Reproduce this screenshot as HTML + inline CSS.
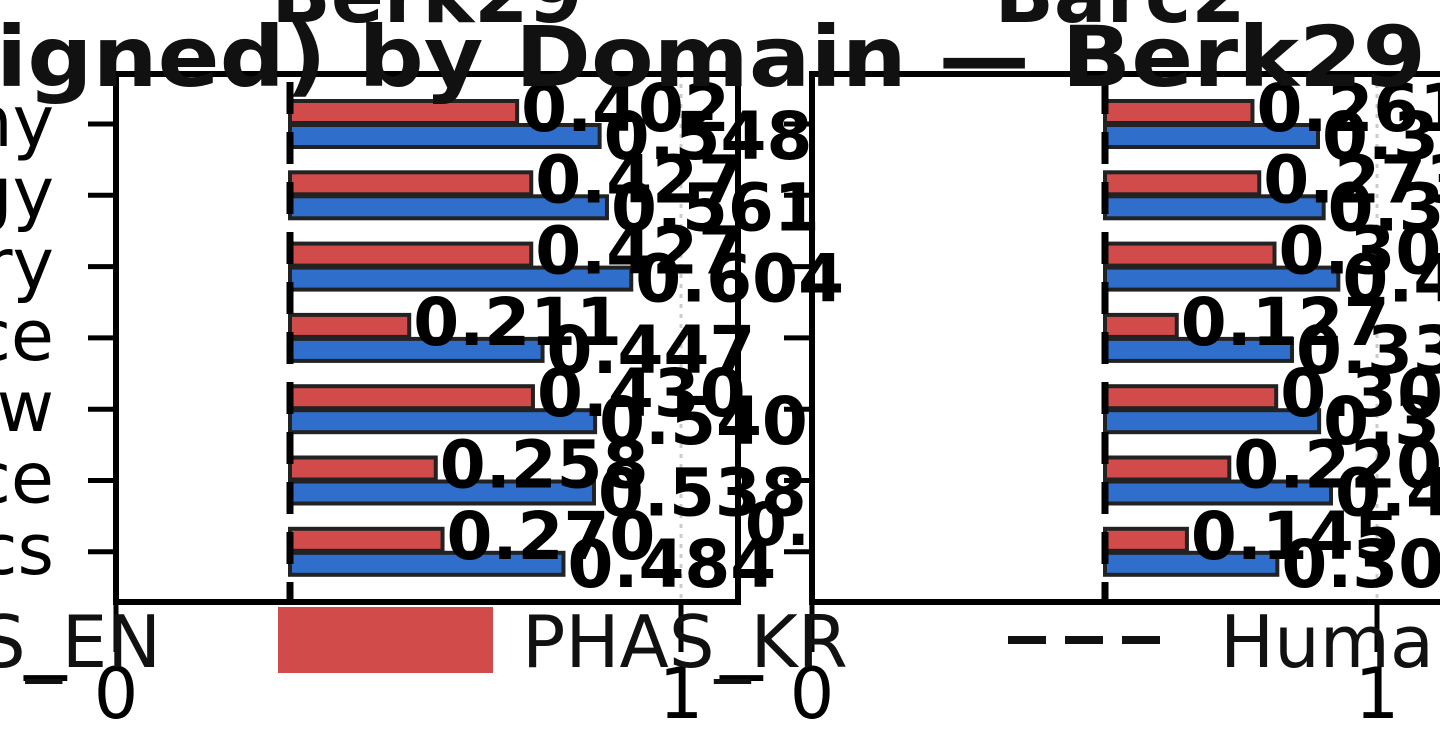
<!DOCTYPE html>
<html><head><meta charset="utf-8"><style>
html,body{margin:0;padding:0;background:#fff;width:1440px;height:752px;overflow:hidden}
svg{display:block;font-family:"DejaVu Sans","Liberation Sans",sans-serif}
</style></head><body>
<svg id="chart" width="1440" height="752" viewBox="0 0 1440 752" xmlns="http://www.w3.org/2000/svg">
<g id="plots"></g>
<g font-weight="bold" font-size="78" fill="#111" text-anchor="middle">
<text x="427" y="22">Berk29</text>
<text x="1120" y="22">Barc2</text>
</g>
<text x="-4" y="86" font-weight="bold" font-size="84" fill="#111" textLength="1430" lengthAdjust="spacingAndGlyphs">igned) by Domain — Berk29</text>
<g font-size="72" fill="#111">
<text x="-20" y="667">S_EN</text>
<rect x="278" y="607" width="215" height="66" fill="#d14b4b"/>
<text x="522" y="667">PHAS_KR</text>
<line x1="1008" y1="640" x2="1160" y2="640" stroke="#111" stroke-width="8" stroke-dasharray="38 19"/>
<text x="1220" y="667">Huma</text>
</g>
</svg>
<script>
const categories = ["ny","gy","ry","ce","w","ce","cs"];
const berkKR = [0.402,0.427,0.427,0.211,0.430,0.258,0.270];
const berkEN = [0.548,0.561,0.604,0.447,0.540,0.538,0.484];
const barcKR = [0.261,0.273,0.300,0.127,0.303,0.220,0.145];
const barcEN = [0.377,0.387,0.413,0.331,0.379,0.400,0.305];
const xTicks = [0,1];

const NS = "http://www.w3.org/2000/svg";
const plotRoot = document.getElementById("plots");
function mk(tag, attrs, parent){
  const e = document.createElementNS(NS, tag);
  for (const k in attrs) e.setAttribute(k, attrs[k]);
  (parent||plotRoot).appendChild(e);
  return e;
}
const axTop = 74, axBottom = 602, rowStep = 71.3, firstRed = 99;
function yRow(i){ return firstRed + i*rowStep; }

function panel(name, x0, x1, barBase, kr, en){
  const g = mk("g", {});
  
  
  const scale = 565;
  const xs = v => x0 + v*scale;
  const gl = mk("line", {x1: xs(1), x2: xs(1), y1: axTop, y2: axBottom, stroke: "#ccc", "stroke-width": 3, "stroke-dasharray": "4 6"}, g);
  
  
  categories.forEach((c, i) => {
    const yr = yRow(i);
    const r = mk("rect", {x: barBase, y: yr+2, width: kr[i]*scale, height: 22, fill: "#d14b4b", stroke: "#222", "stroke-width": 4}, g);
    
    
    const b = mk("rect", {x: barBase, y: yr+26, width: en[i]*scale, height: 22, fill: "#306ecc", stroke: "#222", "stroke-width": 4}, g);
    
    
  });
  const h = mk("line", {x1: barBase, x2: barBase, y1: axTop+8, y2: axBottom, stroke: "#000", "stroke-width": 7, "stroke-dasharray": "32 18"}, g);
  
  
  categories.forEach((c, i) => {
    const yr = yRow(i);
    const t1 = mk("text", {x: barBase + kr[i]*scale + 4, y: yr+32, "font-size": 66, "font-weight": "bold", fill: "#000"}, g);
    t1.textContent = kr[i].toFixed(3);
    
    
    const t2 = mk("text", {x: barBase + en[i]*scale + 4, y: yr+60, "font-size": 66, "font-weight": "bold", fill: "#000"}, g);
    t2.textContent = en[i].toFixed(3);
    
    
  });
  const f = mk("rect", {x: x0, y: axTop, width: x1 - x0, height: axBottom - axTop, fill: "none", stroke: "#000", "stroke-width": 6}, g);
  
  
  categories.forEach((c, i) => {
    const yc = yRow(i) + 25;
    const tk = mk("line", {x1: x0-28, x2: x0, y1: yc, y2: yc, stroke: "#000", "stroke-width": 5}, g);
    
    
    if (name === "berk29") {
      const t = mk("text", {x: 54, y: yc+22, "font-size": 70, "text-anchor": "end", fill: "#000"}, g);
      t.textContent = c;
      
      
    }
  });
  xTicks.forEach(v => {
    const tk = mk("line", {x1: xs(v), x2: xs(v), y1: axBottom, y2: axBottom+50, stroke: "#000", "stroke-width": 5}, g);
    
    
    const t = mk("text", {x: xs(v), y: 718, "font-size": 70, "text-anchor": "middle", fill: "#000"}, g);
    t.textContent = String(v);
    
    
  });
  const m = mk("text", {x: x0 - 100, y: 700, "font-size": 70, fill: "#000"}, g);
  m.textContent = "−";
  
  
}
panel("berk29", 116, 738, 290, berkKR, berkEN);
panel("barc2", 812, 1460, 1105, barcKR, barcEN);
const stray = mk("text", {x: 745, y: 545, "font-size": 60, "font-weight": "bold", fill: "#000"});
stray.textContent = "0.";


</script>
</body></html>
